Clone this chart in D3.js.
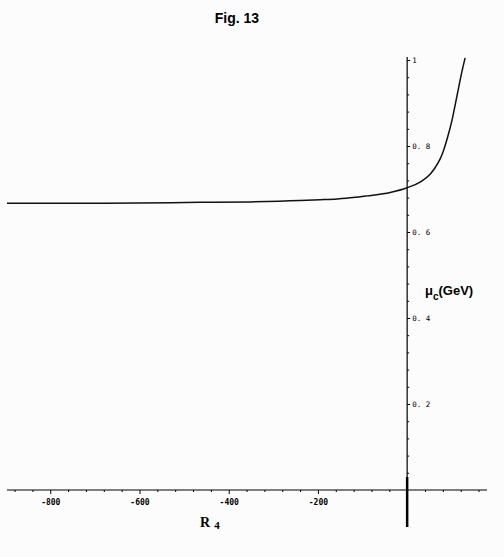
<!DOCTYPE html>
<html>
<head>
<script src="https://d3js.org/d3.v7.min.js"></script>
<style>
  body { margin: 0; background: #fcfcfc; }
  svg { display: block; }
</style>
</head>
<body>
<svg width="504" height="557"></svg>
<script>
"use strict";

// values
var r4 = [-897, -688, -464, -352, -240, -195, -157, -121, -90, -38, 0, 29, 52, 63, 74, 81, 90, 101, 112, 123, 130];
var muC = [0.667, 0.667, 0.669, 0.670, 0.673, 0.675, 0.677, 0.680, 0.684, 0.692, 0.703, 0.716, 0.735, 0.750, 0.770, 0.788, 0.818, 0.862, 0.918, 0.974, 1.005];

var xMajor = [-800, -600, -400, -200];
var xMinor = d3.range(-880, 180, 40).filter(v => v % 200 !== 0);
var yMajor = [0.2, 0.4, 0.6, 0.8, 1];
var yMinor = d3.range(1, 26).map(i => +(i * 0.04).toFixed(2)).filter(v => Math.round(v * 100) % 20 !== 0);

var svg = d3.select("svg");

var x = d3.scaleLinear().domain([-897, 179]).range([7, 487]);
var y = d3.scaleLinear().domain([0, 1]).range([490, 60]);

// title
svg.append("text")
    .attr("x", 237).attr("y", 23)
    .attr("text-anchor", "middle")
    .attr("font-family", "Liberation Sans, Arial, sans-serif")
    .attr("font-weight", "bold")
    .attr("font-size", 14)
    .text("Fig. 13");

// axis lines
svg.append("line")
    .attr("x1", x(-897)).attr("x2", x(179))
    .attr("y1", y(0)).attr("y2", y(0))
    .attr("stroke", "#000").attr("stroke-width", 1.2);
svg.append("line")
    .attr("x1", x(0)).attr("x2", x(0))
    .attr("y1", y(1.007)).attr("y2", y(-0.086))
    .attr("stroke", "#000").attr("stroke-width", 1.2);
svg.append("line")
    .attr("x1", x(0)).attr("x2", x(0))
    .attr("y1", y(0.03)).attr("y2", y(-0.086))
    .attr("stroke", "#000").attr("stroke-width", 2.5);

// x ticks
var xAxisMinor = d3.axisBottom(x).tickValues(xMinor).tickSize(2).tickFormat("");
var xAxisMajor = d3.axisBottom(x).tickValues(xMajor).tickSize(4).tickPadding(5)
    .tickFormat(d3.format("d"));
svg.append("g").attr("transform", "translate(0," + y(0) + ")").call(xAxisMinor)
    .call(g => g.select(".domain").remove());
svg.append("g").attr("transform", "translate(0," + y(0) + ")").call(xAxisMajor)
    .call(g => g.select(".domain").remove())
    .call(g => g.selectAll("text")
        .attr("fill", "#000")
        .attr("font-family", "DejaVu Sans Mono, monospace")
        .attr("font-weight", "bold")
        .attr("font-size", 8)
        .text(d => "-" + Math.abs(d)));

// y ticks
var yAxisMinor = d3.axisRight(y).tickValues(yMinor).tickSize(2).tickFormat("");
var yAxisMajor = d3.axisRight(y).tickValues(yMajor).tickSize(3).tickPadding(2)
    .tickFormat(d => d === 1 ? "1" : d3.format(".1f")(d).replace(".", ". "));
svg.append("g").attr("transform", "translate(" + x(0) + ",0)").call(yAxisMinor)
    .call(g => g.select(".domain").remove());
svg.append("g").attr("transform", "translate(" + x(0) + ",0)").call(yAxisMajor)
    .call(g => g.select(".domain").remove())
    .call(g => g.selectAll("text")
        .attr("fill", "#000")
        .attr("font-family", "DejaVu Sans Mono, monospace")
        .attr("font-size", 7.5)
        .attr("xml:space", "preserve"));

// curve
var line = d3.line()
    .x((d, i) => x(r4[i]))
    .y(d => y(d))
    .curve(d3.curveMonotoneX);
svg.append("path")
    .datum(muC)
    .attr("d", line)
    .attr("fill", "none")
    .attr("stroke", "#111")
    .attr("stroke-width", 1.5);

// axis titles
var xt = svg.append("text")
    .attr("x", 200).attr("y", 527)
    .attr("font-family", "Liberation Serif, Times New Roman, serif")
    .attr("font-weight", "bold")
    .attr("font-size", 14);
xt.append("tspan").text("R");
xt.append("tspan").attr("dx", 4).attr("dy", 2).attr("font-size", 11).text("4");

var yt = svg.append("text")
    .attr("x", 425).attr("y", 295)
    .attr("font-family", "Liberation Sans, Arial, sans-serif")
    .attr("font-weight", "bold")
    .attr("font-size", 13);
yt.append("tspan").text("\u03bc");
yt.append("tspan").attr("dy", 5).attr("font-size", 10).text("c");
yt.append("tspan").attr("dy", -5).text("(GeV)");
</script>
</body>
</html>
